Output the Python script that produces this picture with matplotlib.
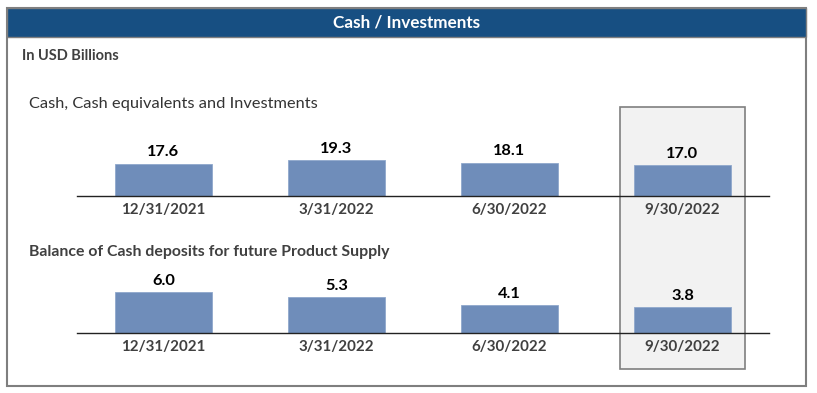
import matplotlib.pyplot as plt
from matplotlib.patches import Rectangle

plt.rcParams['font.family'] = ['Lato', 'DejaVu Sans']

quarters = ['12/31/2021', '3/31/2022', '6/30/2022', '9/30/2022']
cash_investments = [17.6, 19.3, 18.1, 17.0]
cash_deposits = [6.0, 5.3, 4.1, 3.8]

W, H = 817, 393
BAR_COLOR = '#6F8DBA'
TEXT_GRAY = '#404040'


def px_box(x0, y0, x1, y1):
    # pixel coords (top-left origin) -> figure fraction rect
    return [x0 / W, 1 - y1 / H, (x1 - x0) / W, (y1 - y0) / H]


def draw_bars(ax, values, ylim):
    xs = range(len(values))
    ax.bar(xs, values, width=0.555, color=BAR_COLOR, edgecolor='#8FA8CC',
           linewidth=0.6, zorder=2)
    for x, v in zip(xs, values):
        ax.annotate(f'{v:.1f}', (x, v), xytext=(0, 3), textcoords='offset points',
                    ha='center', va='bottom', fontsize=11.8, fontweight='bold',
                    color='black')
    ax.set_xlim(-0.5, 3.5)
    ax.set_ylim(*ylim)
    ax.set_facecolor('none')
    for s in ['top', 'right', 'left']:
        ax.spines[s].set_visible(False)
    ax.spines['bottom'].set_color('#222222')
    ax.spines['bottom'].set_linewidth(1.0)
    ax.spines['bottom'].set_zorder(3)
    ax.set_yticks([])
    ax.set_xticks(list(xs))
    ax.set_xticklabels(quarters, fontsize=10.9, fontweight='bold', color=TEXT_GRAY)
    ax.tick_params(axis='x', length=0, pad=5)


fig = plt.figure(figsize=(W / 100, H / 100), dpi=100)

# outer frame and header band
fig.patches.append(Rectangle((7 / W, 1 - 386 / H), 799 / W, 378 / H,
                             transform=fig.transFigure, facecolor='white',
                             edgecolor='#7F7F7F', linewidth=1.5, zorder=-3))
fig.patches.append(Rectangle((7 / W, 1 - 37 / H), 799 / W, 29 / H,
                             transform=fig.transFigure, facecolor='#174F82',
                             edgecolor='#7F7F7F', linewidth=1.0, zorder=-2))
# highlight for latest quarter
fig.patches.append(Rectangle((620 / W, 1 - 369 / H), 125 / W, 262 / H,
                             transform=fig.transFigure, facecolor='#F2F2F2',
                             edgecolor='#7F7F7F', linewidth=1.2, zorder=-1))

fig.text(407 / W, 1 - 23 / H, 'Cash / Investments', ha='center', va='center',
         color='white', fontsize=12.3, fontweight='bold')
fig.text(22 / W, 1 - 56 / H, 'In USD Billions', ha='left', va='center',
         color=TEXT_GRAY, fontsize=10.5, fontweight='bold')
fig.text(29 / W, 1 - 104 / H, 'Cash, Cash equivalents and Investments',
         ha='left', va='center', color='#333333', fontsize=11.8)
fig.text(29 / W, 1 - 252 / H, 'Balance of Cash deposits for future Product Supply',
         ha='left', va='center', color=TEXT_GRAY, fontsize=11.4, fontweight='bold')

ax1 = fig.add_axes(px_box(77, 130, 769, 196))
draw_bars(ax1, cash_investments, (2.7, 33.1))

ax2 = fig.add_axes(px_box(77, 265, 769, 333))
draw_bars(ax2, cash_deposits, (0, 10))

fig.savefig('out.png', dpi=100)
